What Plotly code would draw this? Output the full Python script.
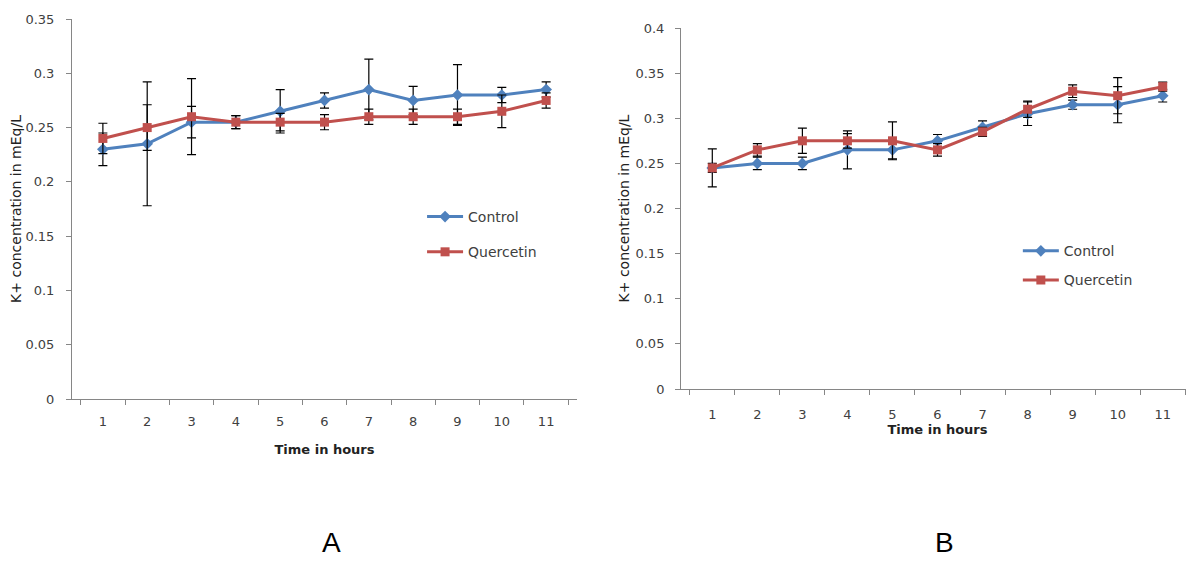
import plotly.graph_objects as go

hours = [str(h) for h in range(1, 12)]

# Panel A
a_control = [0.23, 0.235, 0.255, 0.255, 0.265, 0.275, 0.285, 0.275, 0.28, 0.28, 0.285]
a_control_err = [0.015, 0.057, 0.0145, 0.006, 0.02, 0.007, 0.028, 0.013, 0.028, 0.007, 0.007]
a_quercetin = [0.24, 0.25, 0.26, 0.255, 0.255, 0.255, 0.26, 0.26, 0.26, 0.265, 0.275]
a_quercetin_err = [0.014, 0.021, 0.035, 0.006, 0.008, 0.007, 0.007, 0.007, 0.007, 0.015, 0.007]

# Panel B
b_control = [0.245, 0.25, 0.25, 0.265, 0.265, 0.275, 0.29, 0.305, 0.315, 0.315, 0.325]
b_control_err = [0.005, 0.007, 0.007, 0.021, 0.01, 0.007, 0.007, 0.013, 0.005, 0.02, 0.007]
b_quercetin = [0.245, 0.265, 0.275, 0.275, 0.275, 0.265, 0.285, 0.31, 0.33, 0.325, 0.335]
b_quercetin_err = [0.021, 0.007, 0.014, 0.008, 0.021, 0.007, 0.005, 0.009, 0.007, 0.02, 0.005]

BLUE = "#4F81BD"
RED = "#C0504D"
AXIS = "#868686"
TXT = "#404040"
FONT = "DejaVu Sans"

fig = go.Figure()

def add_series(x, y, err, name, color, symbol, size, xa, ya, legend, group):
    fig.add_trace(go.Scatter(
        x=x, y=y, name=name, mode="lines+markers",
        line=dict(color=color, width=3),
        marker=dict(color=color, symbol=symbol, size=size),
        error_y=dict(type="data", array=err, color="black", thickness=1.2, width=4.5),
        xaxis=xa, yaxis=ya, legend=legend, legendgroup=group,
    ))

add_series(hours, a_control, a_control_err, "Control", BLUE, "diamond", 9, "x", "y", "legend", "a1")
add_series(hours, a_quercetin, a_quercetin_err, "Quercetin", RED, "square", 9, "x", "y", "legend", "a2")
add_series(hours, b_control, b_control_err, "Control", BLUE, "diamond", 9, "x2", "y2", "legend2", "b1")
add_series(hours, b_quercetin, b_quercetin_err, "Quercetin", RED, "square", 9, "x2", "y2", "legend2", "b2")

axis_common = dict(showline=True, linecolor=AXIS, linewidth=1, showgrid=False, zeroline=False,
                   ticks="outside", ticklen=5, tickcolor=AXIS,
                   tickfont=dict(family=FONT, size=13, color=TXT))

xtitle = dict(text="<b>Time in hours</b>", font=dict(family=FONT, size=13, color="#222222"))
ytitle = dict(text="K+ concentration in mEq/L", font=dict(family=FONT, size=14, color="#222222"))

fig.update_layout(
    width=1186, height=553,
    margin=dict(l=64, r=0, t=11, b=162),
    plot_bgcolor="white", paper_bgcolor="white",
    showlegend=True,
    xaxis=dict(domain=[0, 0.4501], type="category", tickson="boundaries", ticklabelstandoff=10,
               title=dict(standoff=17, **xtitle), anchor="y", **axis_common),
    yaxis=dict(domain=[0, 1], range=[0, 0.35], dtick=0.05, anchor="x", ticklabelstandoff=9,
               title=dict(standoff=1, **ytitle), **axis_common),
    xaxis2=dict(domain=[0.5428, 1], type="category", tickson="boundaries", ticklabelstandoff=13,
                title=dict(standoff=2, **xtitle), anchor="y2", **axis_common),
    yaxis2=dict(domain=[0.0263, 0.9763], range=[0, 0.4], dtick=0.05, anchor="x2", ticklabelstandoff=8,
                title=dict(standoff=2, **ytitle), **axis_common),
    legend=dict(x=0.312, y=0.521, xanchor="left", yanchor="top", tracegroupgap=14, itemwidth=36,
                font=dict(family=FONT, size=14, color=TXT), bgcolor="rgba(0,0,0,0)"),
    legend2=dict(x=0.843, y=0.431, xanchor="left", yanchor="top", tracegroupgap=8, itemwidth=36,
                 font=dict(family=FONT, size=14, color=TXT), bgcolor="rgba(0,0,0,0)"),
    annotations=[
        dict(text="A", x=0.2317, y=-0.4237, xref="paper", yref="paper", showarrow=False,
             xanchor="center", yanchor="bottom",
             font=dict(family="Liberation Sans", size=28, color="black")),
        dict(text="B", x=0.778, y=-0.4237, xref="paper", yref="paper", showarrow=False,
             xanchor="center", yanchor="bottom",
             font=dict(family="Liberation Sans", size=28, color="black")),
    ],
)

fig.write_html("out.html")
